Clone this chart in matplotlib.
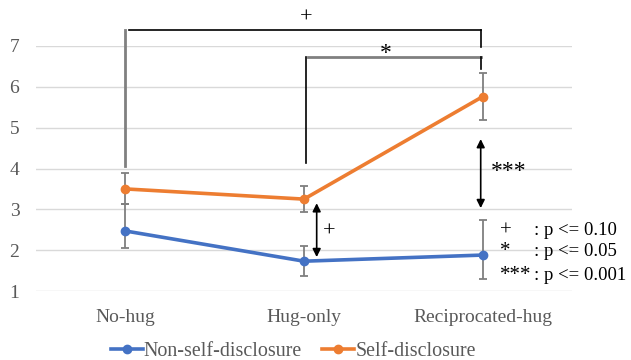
import matplotlib
matplotlib.use("Agg")
import matplotlib.pyplot as plt

# categories and group means
conditions = ["No-hug", "Hug-only", "Reciprocated-hug"]
non_disc = [2.47, 1.73, 1.88]
non_disc_lo = [0.42, 0.36, 0.59]
non_disc_hi = [0.65, 0.36, 0.86]
self_disc = [3.50, 3.25, 5.76]
self_disc_err = [0.38, 0.31, 0.57]

sig_marks = ["+", "*", "***"]
sig_text = [": p <= 0.10", ": p <= 0.05", ": p <= 0.001"]
sig_y = [2.47, 1.96, 1.37]

BLUE = "#4472C4"
ORANGE = "#ED7D31"
GRID = "#D9D9D9"
TICK = "#595959"
ERR = "#7F7F7F"

plt.rcParams["font.family"] = ["Liberation Serif", "DejaVu Serif"]

fig = plt.figure(figsize=(6.31, 3.6), dpi=100)
ax = fig.add_axes([36 / 631, 1 - 291 / 360, 536 / 631, 245 / 360])

x = list(range(len(conditions)))

ax.errorbar(x, self_disc, yerr=self_disc_err, fmt="none", ecolor=ERR,
            elinewidth=1.3, capsize=3, capthick=1.3, zorder=2)
ax.errorbar(x, non_disc, yerr=[non_disc_lo, non_disc_hi], fmt="none",
            ecolor=ERR, elinewidth=1.3, capsize=3, capthick=1.3, zorder=2)
ax.plot(x, non_disc, color=BLUE, lw=2.6, marker="o", ms=6,
        label="Non-self-disclosure", zorder=3)
ax.plot(x, self_disc, color=ORANGE, lw=2.6, marker="o", ms=6,
        label="Self-disclosure", zorder=3)

ax.set_xlim(-0.5, 2.5)
ax.set_ylim(1, 7)
ax.set_yticks(range(1, 8))
ax.set_xticks(x)
ax.set_xticklabels(conditions)
ax.tick_params(axis="both", length=0, colors=TICK, labelsize=14)
ax.tick_params(axis="x", pad=13)
ax.tick_params(axis="y", pad=12)
ax.grid(axis="y", color=GRID, lw=1)
ax.set_axisbelow(True)
for s in ax.spines.values():
    s.set_visible(False)

# bracket: No-hug vs Reciprocated-hug (+)
ax.plot([0, 0], [4.06, 7.39], color="#808080", lw=2, clip_on=False)
ax.plot([0.02, 1.99], [7.39, 7.39], color="black", lw=1.2, clip_on=False)
ax.plot([1.99, 1.99], [7.39, 6.98], color="black", lw=1.2, clip_on=False)
ax.text(1.015, 7.69, "+", ha="center", va="center", fontsize=16)

# bracket: Hug-only vs Reciprocated-hug (*)
ax.plot([1.009, 1.009], [4.13, 6.73], color="black", lw=1.2, clip_on=False)
ax.plot([1.02, 1.99], [6.73, 6.73], color="#808080", lw=2, clip_on=False)
ax.plot([1.99, 1.99], [6.73, 6.43], color="black", lw=1.2, clip_on=False)
ax.text(1.459, 6.82, "*", ha="center", va="center", fontsize=17)

# double arrows between groups
ax.annotate("", xy=(1.989, 4.72), xytext=(1.989, 3.03),
            arrowprops=dict(arrowstyle="<|-|>", color="black", lw=1.2,
                            mutation_scale=12, shrinkA=0, shrinkB=0))
ax.text(2.043, 3.93, "***", ha="left", va="center", fontsize=17)
ax.annotate("", xy=(1.071, 3.15), xytext=(1.071, 1.83),
            arrowprops=dict(arrowstyle="<|-|>", color="black", lw=1.2,
                            mutation_scale=12, shrinkA=0, shrinkB=0))
ax.text(1.142, 2.45, "+", ha="center", va="center", fontsize=16)

# significance key
for m, t, yv in zip(sig_marks, sig_text, sig_y):
    ax.text(2.097, yv, m, ha="left", va="center", fontsize=15, clip_on=False)
    ax.text(2.285, yv, t, ha="left", va="center", fontsize=13.5, clip_on=False)

leg = ax.legend(loc="center", bbox_to_anchor=(0.48, -0.245), ncol=2,
                frameon=False, fontsize=14.4, handlelength=1.6,
                handletextpad=0.05, columnspacing=1.0, borderaxespad=0,
                borderpad=0)
for t in leg.get_texts():
    t.set_color(TICK)

fig.savefig("out.png", dpi=100)
